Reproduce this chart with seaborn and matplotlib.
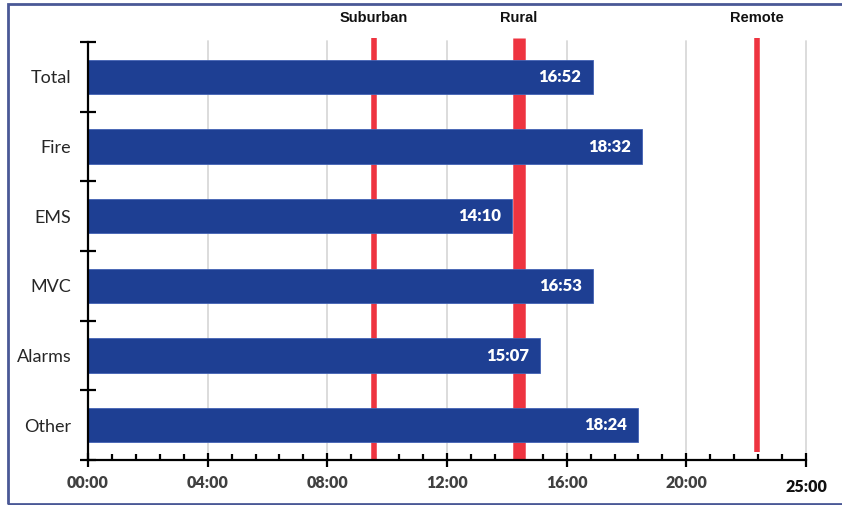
import matplotlib
matplotlib.use("Agg")
import matplotlib.pyplot as plt
from matplotlib.patches import Rectangle
from matplotlib.ticker import MultipleLocator, FixedLocator
import seaborn as sns
import pandas as pd

# response times in minutes (mm:ss)
categories = ["Total", "Fire", "EMS", "MVC", "Alarms", "Other"]
bar_labels = ["16:52", "18:32", "14:10", "16:53", "15:07", "18:24"]
minutes = [16 + 52 / 60, 18 + 32 / 60, 14 + 10 / 60, 16 + 53 / 60, 15 + 7 / 60, 18 + 24 / 60]

# benchmark lines
ref_names = ["Suburban", "Rural", "Remote"]
ref_minutes = [9.55, 14.4, 22.35]
ref_widths = [4, 9, 4]

x_ticks = [0, 4, 8, 12, 16, 20, 24]
x_labels = ["00:00", "04:00", "08:00", "12:00", "16:00", "20:00", "25:00"]

BAR = "#1E3F93"
RED = "#EE3440"

sns.set_style("white")
plt.rcParams["font.family"] = ["Lato", "DejaVu Sans"]

df = pd.DataFrame({"category": categories, "minutes": minutes})

fig = plt.figure(figsize=(8.42, 5.05), dpi=100)
W, H = 842, 505
ax = fig.add_axes([88 / W, 1 - 460 / H, (806 - 88) / W, (460 - 42) / H])

sns.barplot(data=df, x="minutes", y="category", color=BAR, saturation=1,
            width=0.49, orient="h", edgecolor="#4262B4", linewidth=0.6,
            zorder=3, ax=ax)

ax.set_xlim(0, 24)
ax.set_ylim(5.5, -0.5)

# vertical gridlines
for xt in x_ticks[1:]:
    ax.axvline(xt, ymax=1.003, color="#D9D9D9", lw=1.3, zorder=0, clip_on=False)

# benchmark lines, drawn behind the bars
for name, xm, lw in zip(ref_names, ref_minutes, ref_widths):
    ymin = 0.018 if name == "Remote" else 0
    ax.axvline(xm, ymin=ymin, ymax=1.01, color=RED, lw=lw, zorder=2,
               clip_on=False, solid_capstyle="butt")
    ax.annotate(name, xy=(xm, 1), xycoords=("data", "axes fraction"),
                xytext=(0, 17), textcoords="offset points", ha="center", va="center",
                fontsize=10.5, fontweight="bold", family="Liberation Sans", color="#111111")

# value labels inside bar ends
for i, (m, lab) in enumerate(zip(minutes, bar_labels)):
    ax.annotate(lab, xy=(m, i), xytext=(-8, 0), textcoords="offset points",
                ha="right", va="center", color="white", fontsize=12,
                fontweight="heavy", zorder=5)

# spines
for s in ["top", "right"]:
    ax.spines[s].set_visible(False)
for s in ["left", "bottom"]:
    ax.spines[s].set_color("black")
    ax.spines[s].set_linewidth(1.6)
    ax.spines[s].set_zorder(6)

# x axis ticks
ax.xaxis.set_major_locator(FixedLocator(x_ticks))
ax.xaxis.set_minor_locator(MultipleLocator(0.8))
ax.set_xticklabels(x_labels[:-1] + [""])
ax.tick_params(axis="x", which="both", bottom=True)
ax.tick_params(axis="x", which="major", direction="inout", length=10, width=1.6,
               colors="black", labelcolor="#404040", labelsize=11.5, pad=6)
ax.tick_params(axis="x", which="minor", direction="in", length=4, width=1.6,
               colors="black")
for t in ax.get_xticklabels():
    t.set_fontweight("heavy")
ax.annotate(x_labels[-1], xy=(24, 0), xycoords=("data", "axes fraction"),
            xytext=(0, -14), textcoords="offset points", ha="center", va="top",
            fontsize=11.5, fontweight="heavy", color="#111111")

# y axis: ticks at category boundaries, labels at centres
ax.yaxis.set_major_locator(FixedLocator([i - 0.5 for i in range(len(categories) + 1)]))
ax.yaxis.set_minor_locator(FixedLocator(list(range(len(categories)))))
ax.set_yticklabels([""] * (len(categories) + 1))
ax.set_yticklabels(categories, minor=True)
ax.tick_params(axis="y", which="both", left=True)
ax.tick_params(axis="y", which="major", direction="inout", length=12, width=1.6,
               colors="black")
ax.tick_params(axis="y", which="minor", length=0, labelsize=13,
               labelcolor="#262626", pad=12)
ax.set_xlabel("")
ax.set_ylabel("")

# outer frame
fig.patches.append(Rectangle((8 / W, 1 - 504 / H), 900 / W, 500 / H,
                             transform=fig.transFigure, fill=False,
                             edgecolor="#4A5896", lw=2))

fig.savefig("out.png", dpi=100)
